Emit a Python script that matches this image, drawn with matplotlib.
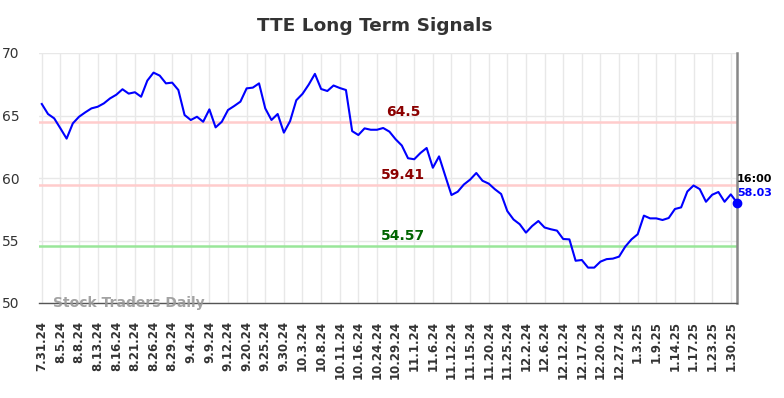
import matplotlib
matplotlib.use("Agg")
import matplotlib.pyplot as plt

values = [
    65.92, 65.12, 64.77, 63.97, 63.15, 64.37, 64.90, 65.25, 65.57, 65.70,
    65.97, 66.37, 66.66, 67.10, 66.75, 66.86, 66.50, 67.79, 68.43, 68.19,
    67.57, 67.63, 67.04, 65.04, 64.64, 64.90, 64.50, 65.49, 64.05, 64.50,
    65.44, 65.76, 66.11, 67.17, 67.23, 67.57, 65.57, 64.64, 65.12, 63.63,
    64.55, 66.22, 66.73, 67.47, 68.33, 67.12, 66.96, 67.40, 67.20, 67.04,
    63.75, 63.44, 63.97, 63.86, 63.86, 64.00, 63.71, 63.10, 62.60, 61.58,
    61.50, 62.00, 62.40, 60.82, 61.73, 60.17, 58.64, 58.90, 59.48, 59.87,
    60.40, 59.78, 59.55, 59.10, 58.72, 57.35, 56.68, 56.30, 55.63, 56.16,
    56.56, 56.04, 55.90, 55.79, 55.12, 55.09, 53.38, 53.44, 52.83, 52.83,
    53.31, 53.51, 53.55, 53.71, 54.51, 55.09, 55.50, 56.99, 56.77, 56.77,
    56.64, 56.80, 57.52, 57.65, 58.92, 59.40, 59.11, 58.10, 58.66, 58.88,
    58.10, 58.69, 58.03,
]

tick_labels = [
    "7.31.24", "8.5.24", "8.8.24", "8.13.24", "8.16.24", "8.21.24", "8.26.24",
    "8.29.24", "9.4.24", "9.9.24", "9.12.24", "9.20.24", "9.25.24", "9.30.24",
    "10.3.24", "10.8.24", "10.11.24", "10.16.24", "10.24.24", "10.29.24",
    "11.1.24", "11.6.24", "11.12.24", "11.15.24", "11.20.24", "11.25.24",
    "12.2.24", "12.6.24", "12.12.24", "12.17.24", "12.20.24", "12.27.24",
    "1.3.25", "1.9.25", "1.14.25", "1.17.25", "1.23.25", "1.30.25",
]
tick_step = 3

levels = [64.5, 59.41, 54.57]
level_labels = ["64.5", "59.41", "54.57"]
level_line_colors = ["#ffcccc", "#ffcccc", "#99e699"]
level_text_colors = ["#8b0000", "#8b0000", "#006400"]

last_time = "16:00"
title = "TTE Long Term Signals"
watermark = "Stock Traders Daily"

fig = plt.figure(figsize=(7.84, 3.98), dpi=100)
ax = fig.add_axes([39 / 784, 1 - 303 / 398, (737 - 39) / 784, (303 - 53) / 398])

x = list(range(len(values)))
ax.set_xlim(-0.45, len(values) - 1)
ax.set_ylim(50, 70)

ticks = list(range(0, len(values), tick_step))[:len(tick_labels)]
ax.set_xticks(ticks)
ax.set_xticklabels(tick_labels, rotation=90, fontsize=8.5, fontweight="bold",
                   color="#333333")
ax.set_yticks([50, 55, 60, 65, 70])
ax.set_yticklabels(["50", "55", "60", "65", "70"], fontsize=10, color="#333333")
ax.tick_params(axis="x", length=0, pad=13)
ax.tick_params(axis="y", length=0, pad=14)

ax.grid(True, color="#e8e8e8", linewidth=1.0)
ax.set_axisbelow(True)
for s in ["left", "top"]:
    ax.spines[s].set_visible(False)
ax.spines["bottom"].set_color("#555555")
ax.spines["bottom"].set_linewidth(1.0)
ax.spines["right"].set_color("#888888")
ax.spines["right"].set_linewidth(1.8)

label_x = 58.2
for lv, lab, lc, tc in zip(levels, level_labels, level_line_colors, level_text_colors):
    ax.axhline(lv, color=lc, linewidth=1.8, zorder=1)
    ax.text(label_x, lv + 0.25, lab, color=tc, fontsize=10, fontweight="bold",
            ha="center", va="bottom", zorder=3)

ax.plot(x, values, color="#0000ff", linewidth=1.5, zorder=4)
ax.plot([x[-1]], [values[-1]], "o", color="#0000ff", markersize=6, zorder=5,
        clip_on=False)

ax.annotate(last_time, xy=(x[-1], values[-1]), xytext=(0, 13.5),
            textcoords="offset points", fontsize=8, fontweight="bold",
            color="black", ha="left", va="bottom", annotation_clip=False)
ax.annotate(f"{values[-1]:.2f}", xy=(x[-1], values[-1]), xytext=(0, 3.5),
            textcoords="offset points", fontsize=8, fontweight="bold",
            color="#0000ff", ha="left", va="bottom", annotation_clip=False)

ax.text(0.02, 0.0, watermark, transform=ax.transAxes, fontsize=10,
        fontweight="bold", color="#999999", alpha=0.9, ha="left",
        va="center", zorder=6)

fig.text(375 / 784, 1 - 26 / 398, title, fontsize=13.3, fontweight="bold",
         color="#333333", ha="center", va="center")

fig.savefig("out.png", dpi=100)
